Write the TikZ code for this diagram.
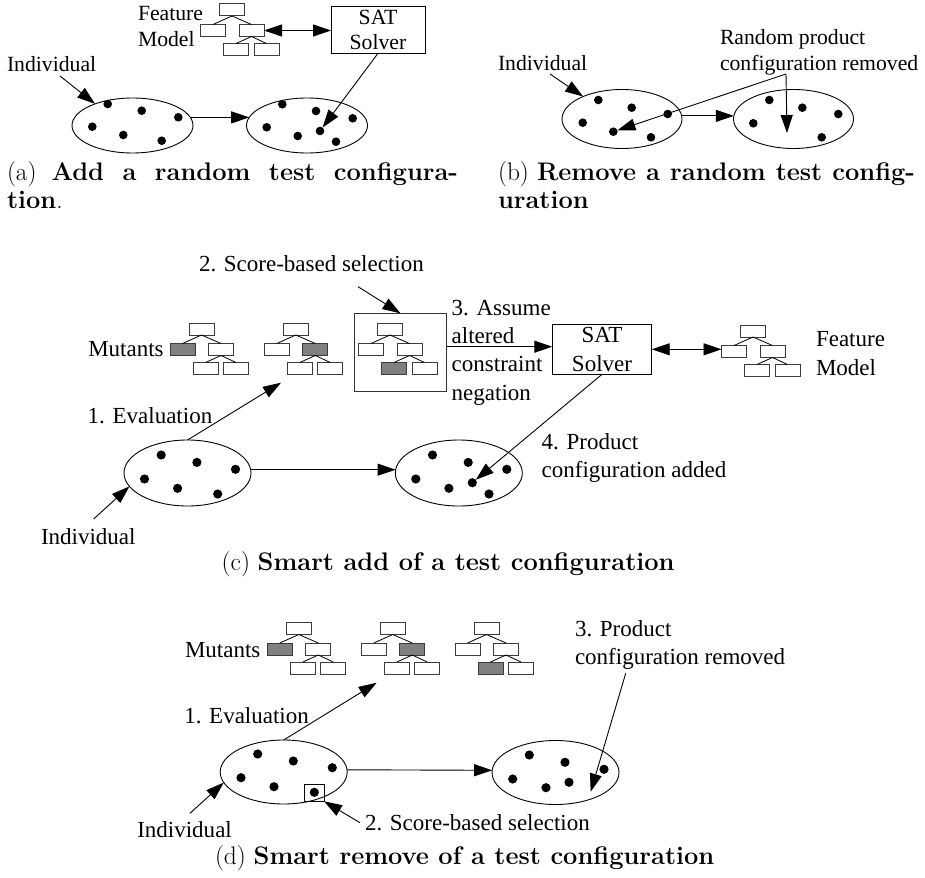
\documentclass[tikz,border=0pt]{standalone}
\usepackage{fontspec}
\newfontfamily\lbl{Liberation Serif}
\usetikzlibrary{arrows.meta,shapes.geometric}
\definecolor{mutfill}{RGB}{128,128,128}
\definecolor{boxline}{RGB}{60,60,60}
\tikzset{
  every node/.style={inner sep=0pt, outer sep=0pt},
  lblA/.style={font=\lbl\fontsize{21.7}{26}\selectfont, anchor=base west},
  lblC/.style={font=\lbl\fontsize{23}{28.3}\selectfont, anchor=base west},
  capt/.style={font=\fontsize{25.4}{30}\selectfont, anchor=base west},
  arr/.style={line width=0.9pt, -{Triangle[length=18pt,width=12pt]}},
  darr/.style={line width=0.9pt, {Triangle[length=18pt,width=12pt]}-{Triangle[length=18pt,width=12pt]}},
  popA/.style={draw, line width=0.9pt, ellipse, minimum width=121pt, minimum height=55pt},
  popB/.style={draw, line width=0.9pt, ellipse, minimum width=120pt, minimum height=59pt},
  popC/.style={draw, line width=0.9pt, ellipse, minimum width=127pt, minimum height=66pt},
  dotA/.style={circle, fill=black, minimum size=8.6pt},
  dotC/.style={circle, fill=black, minimum size=9.2pt},
  fmbox/.style={draw=boxline, line width=1pt, minimum width=25pt, minimum height=12pt, fill=white},
  fmline/.style={line width=0.8pt},
  mut/.style={fill=mutfill},
  satbox/.style={draw, line width=1pt, align=center},
}
\newcommand\FMicon[5]{%
  \begin{scope}[shift={#2}]
    \node[fmbox] (#1r) at (0,0) {};
    \node[fmbox,#3] (#1L) at (-19,20.5) {};
    \node[fmbox,#4] (#1R) at (19.5,20.5) {};
    \node[fmbox,#5] (#1RL) at (4,39.5) {};
    \node[fmbox] (#1RR) at (34.5,39.5) {};
    \draw[fmline] (#1r.south) -- (#1L.north);
    \draw[fmline] (#1r.south) -- (#1R.north);
    \draw[fmline] (#1R.south) -- (#1RL.north);
    \draw[fmline] (#1R.south) -- (#1RR.north);
  \end{scope}}
\begin{document}
\begin{tikzpicture}[x=1pt,y=-1pt]
\useasboundingbox (0,0) rectangle (925,877);

% ================= panel (a)
\node[lblA] (feA) at (138,20.7) {Feature};
\node[lblA] (moA) at (138,46.7) {Model};
\FMicon{fa}{(232,10)}{}{}{}
\node[satbox,font=\lbl\fontsize{21.7}{25.7}\selectfont,minimum width=94pt,minimum height=46.6pt] (satA) at (378,30) {SAT\\Solver};
\draw[darr] (faR.east) -- (faR.east -| satA.west);
\node[lblA] (indA) at (7,72) {Individual};
\coordinate (iA) at (60,76);
\node[popA] (e1a) at (132.5,125.5) {};
\node[popA] (e2a) at (307,125.5) {};
\begin{scope}[shift={(132.5,125.5)}]
  \node[dotA] (a11) at (-24.8,-21.5) {};
  \node[dotA] (a12) at (9.2,-14.8) {};
  \node[dotA] (a13) at (45.8,-8.2) {};
  \node[dotA] (a14) at (-40.2,1.2) {};
  \node[dotA] (a15) at (-9.2,9.5) {};
  \node[dotA] (a16) at (29.2,15.2) {};
\end{scope}
\begin{scope}[shift={(307,125.5)}]
  \node[dotA] (a21) at (-24.7,-21.2) {};
  \node[dotA] (a22) at (9,-14.5) {};
  \node[dotA] (a23) at (45.7,-7.2) {};
  \node[dotA] (a24) at (-40.3,1.8) {};
  \node[dotA] (a25) at (-9.3,10.5) {};
  \node[dotA] (a26) at (13,5.5) {};
  \node[dotA] (a27) at (29,16.2) {};
\end{scope}
\draw[arr] (iA) -- (e1a.150);
\draw[arr] (e1a.8) -- (e2a.172);
\draw[arr] (satA.south) -- (a26);
\node[capt] (capA1) at (7,181) {\makebox[451pt][s]{(a) \textbf{Add a random test configura-}}};
\node[capt] (capA2) at (7,208) {\textbf{tion}.};

% ================= panel (b)
\node[lblA] (indB) at (498,71) {Individual};
\coordinate (iB) at (550,74);
\node[lblA] (rpB1) at (720,45) {Random product};
\node[lblA] (rpB2) at (720,70.7) {configuration removed};
\node[popB] (e1b) at (622,119) {};
\node[popB] (e2b) at (793.5,119) {};
\begin{scope}[shift={(622,119)}]
  \node[dotA] (b11) at (-23.7,-19) {};
  \node[dotA] (b12) at (9.7,-11.3) {};
  \node[dotA] (b13) at (45.7,-5) {};
  \node[dotA] (b14) at (-39.3,3.7) {};
  \node[dotA] (b15) at (-8.7,12.7) {};
  \node[dotA] (b16) at (29,18.3) {};
\end{scope}
\begin{scope}[shift={(793.5,119)}]
  \node[dotA] (b21) at (-24.2,-19) {};
  \node[dotA] (b22) at (8.8,-11.3) {};
  \node[dotA] (b23) at (44.8,-5) {};
  \node[dotA] (b24) at (-40.2,4.3) {};
  \node[dotA] (b25) at (28.2,18.3) {};
\end{scope}
\coordinate (rB) at (786,74);
\coordinate (holeB) at (787,133);
\draw[arr] (iB) -- (e1b.150);
\draw[arr] (e1b.3) -- (e2b.177);
\draw[arr] (rB) -- (b15);
\draw[arr] (rB) -- (holeB);
\node[capt] (capB1) at (498,181) {\makebox[417pt][s]{(b) \textbf{Remove a random test config-}}};
\node[capt] (capB2) at (498,208) {\textbf{uration}};

% ================= panel (c)
\node[lblC] (scC) at (199,271.7) {2. Score-based selection};
\coordinate (sC) at (358,286.7);
\node[draw=black!80, line width=1pt, minimum width=92.4pt, minimum height=77.7pt] (selC) at (400.5,352.2) {};
\FMicon{c1}{(201.5,329)}{mut}{}{}
\FMicon{c2}{(295.8,329)}{}{mut}{}
\FMicon{c3}{(390,329)}{}{}{mut}
\node[lblC] (mutC) at (88.3,356.7) {Mutants};
\node[lblC] (evC) at (87.7,423.3) {1. Evaluation};
\coordinate (evtipC) at (281,382.7);
\node[lblC] (asC1) at (451.7,315.7) {3. Assume};
\node[lblC] (asC2) at (451.7,343.3) {altered};
\node[lblC] (asC3) at (451.7,371.7) {constraint};
\node[lblC] (asC4) at (451.7,400) {negation};
\node[satbox,font=\lbl\fontsize{23}{28.4}\selectfont,minimum width=99.4pt,minimum height=50pt] (satC) at (602,349.3) {SAT\\Solver};
\FMicon{cf}{(753,331)}{}{}{}
\node[lblC] (feC) at (816,346) {Feature};
\node[lblC] (moC) at (816,375.7) {Model};
\node[popC] (e1c) at (187.5,473) {};
\node[popC] (e2c) at (458.8,473) {};
\begin{scope}[shift={(187.5,473)}]
  \node[dotC] (c11) at (-26.3,-18) {};
  \node[dotC] (c12) at (9.4,-10.6) {};
  \node[dotC] (c13) at (48,-3.7) {};
  \node[dotC] (c14) at (-43,6) {};
  \node[dotC] (c15) at (-9.9,15.3) {};
  \node[dotC] (c16) at (30.2,21) {};
\end{scope}
\begin{scope}[shift={(458.8,473)}]
  \node[dotC] (c21) at (-26.3,-18) {};
  \node[dotC] (c22) at (9.4,-10.6) {};
  \node[dotC] (c23) at (48,-3.7) {};
  \node[dotC] (c24) at (-43,6) {};
  \node[dotC] (c25) at (-9.9,15.3) {};
  \node[dotC] (c26) at (13.5,9.7) {};
  \node[dotC] (c27) at (30.2,21) {};
\end{scope}
\node[lblC] (paC1) at (541.7,449.3) {4. Product};
\node[lblC] (paC2) at (541.7,477) {configuration added};
\node[lblC] (indC) at (41,544) {Individual};
\coordinate (iC) at (93.6,519);
\draw[arr] (sC) -- (selC.north);
\draw[arr] (e1c.north) -- (evtipC);
\draw[arr] ([yshift=5.5pt]selC.east) -- ([yshift=5.5pt]selC.east -| satC.west);
\draw[darr] (satC.east) -- (satC.east -| cfL.west);
\draw[arr] (e1c.3) -- (e2c.177);
\draw[arr] (satC.south) -- (c26);
\draw[arr] (iC) -- (e1c.193);
\node[capt] (capC) at (221.7,570) {(c) \textbf{Smart add of a test configuration}};

% ================= panel (d)
\node[lblC] (mutD) at (185,657.3) {Mutants};
\FMicon{d1}{(298.8,628.5)}{mut}{}{}
\FMicon{d2}{(392.8,628.5)}{}{mut}{}
\FMicon{d3}{(486.5,628.5)}{}{}{mut}
\node[lblC] (evD) at (184.3,723.3) {1. Evaluation};
\coordinate (evtipD) at (376.7,682.7);
\node[popC, minimum height=64pt] (e1d) at (283.7,772) {};
\node[popC, minimum height=64pt] (e2d) at (555.5,772.5) {};
\begin{scope}[shift={(283.7,772)}]
  \node[dotC] (d11) at (-26,-18) {};
  \node[dotC] (d12) at (9.6,-11) {};
  \node[dotC] (d13) at (48.6,-4.3) {};
  \node[dotC] (d14) at (-42.7,5.7) {};
  \node[dotC] (d15) at (-9.7,14.7) {};
  \node[dotC] (d16) at (30.6,20.3) {};
\end{scope}
\node[draw, line width=1pt, minimum width=19.7pt, minimum height=17pt] (selD) at (314.2,792.8) {};
\begin{scope}[shift={(555.5,772.5)}]
  \node[dotC] (d21) at (-26.2,-17.5) {};
  \node[dotC] (d22) at (9.5,-10.2) {};
  \node[dotC] (d23) at (48.5,-3.2) {};
  \node[dotC] (d24) at (-42.8,6.5) {};
  \node[dotC] (d25) at (-9.5,15.2) {};
  \node[dotC] (d26) at (13.5,9.8) {};
\end{scope}
\node[lblC] (prD1) at (575,636) {3. Product};
\node[lblC] (prD2) at (575,664) {configuration removed};
\coordinate (rD) at (625.7,673.3);
\coordinate (holeD) at (590.7,791.7);
\node[lblC] (indD) at (137.3,837) {Individual};
\coordinate (iD) at (190,813.3);
\node[lblC] (scD) at (365,830) {2. Score-based selection};
\coordinate (sD) at (360,822.7);
\draw[arr] (e1d.north) -- (evtipD);
\draw[arr] (e1d.2) -- (e2d.178);
\draw[arr] (rD) -- (holeD);
\draw[arr] (iD) -- (e1d.190);
\draw[arr] (sD) -- (selD.south east);
\node[capt] (capD) at (215,864) {(d) \textbf{Smart remove of a test configuration}};
\end{tikzpicture}
\end{document}
